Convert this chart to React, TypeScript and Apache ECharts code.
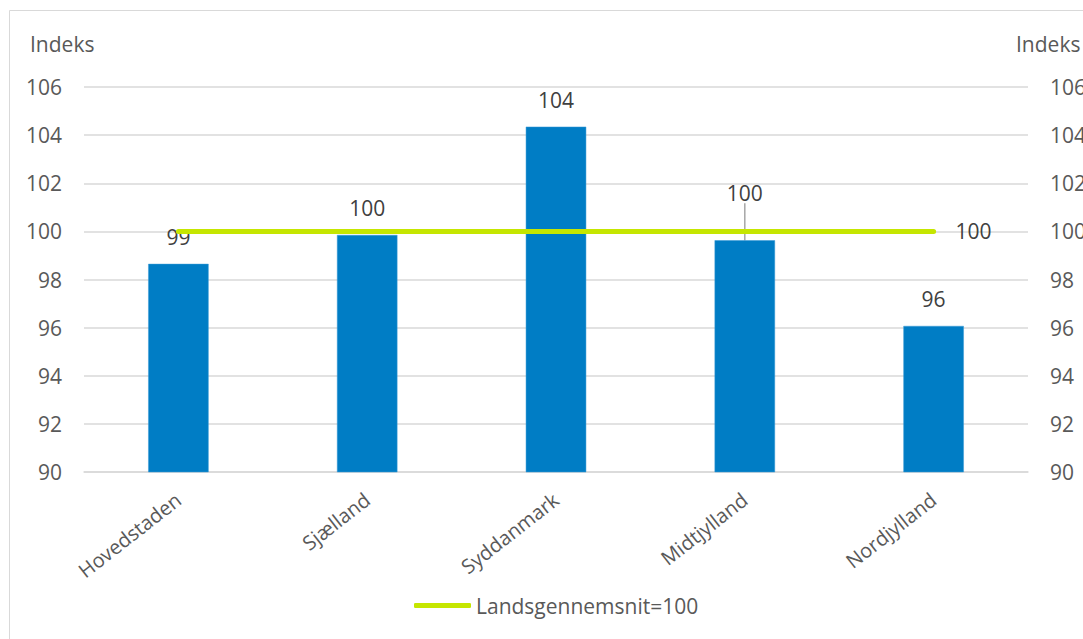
import React, { useEffect, useRef } from "react";
import * as echarts from "echarts";

const categories = ["Hovedstaden", "Sjælland", "Syddanmark", "Midtjylland", "Nordjylland"];
const indexValues = [98.65, 99.85, 104.35, 99.63, 96.07];
const indexLabels = ["99", "100", "104", "100", "96"];
const averageValues = [100, 100, 100, 100, 100];
const averageEndLabel = "100";
const averageName = "Landsgennemsnit=100";
const axisTitle = "Indeks";
const yMin = 90;
const yMax = 106;
const yStep = 2;

const FONT = "'Open Sans', 'Noto Sans', sans-serif";
const GRAY = "#595959";

export default function App() {
  const ref = useRef<HTMLDivElement>(null);
  useEffect(() => {
    if (!ref.current) return;
    const chart = echarts.init(ref.current, undefined, { renderer: "svg" });
    const yAxisBase = {
      type: "value",
      min: yMin,
      max: yMax,
      interval: yStep,
      axisLine: { show: false },
      axisTick: { show: false },
    };
    chart.setOption({
      animation: false,
      backgroundColor: "#ffffff",
      textStyle: { fontFamily: FONT },
      grid: {
        left: 84,
        right: 55,
        top: 87,
        bottom: 167,
        containLabel: false,
        outerBoundsMode: "none",
      },
      graphic: [
        {
          type: "rect",
          shape: { x: 9.5, y: 10.5, width: 1300, height: 800 },
          style: { fill: "none", stroke: "#d9d9d9", lineWidth: 1 },
          silent: true,
        },
        {
          type: "text",
          left: 30,
          top: 33,
          style: { text: axisTitle, fill: GRAY, font: `21px ${FONT}` },
        },
        {
          type: "text",
          left: 1016,
          top: 33,
          style: { text: axisTitle, fill: GRAY, font: `21px ${FONT}` },
        },
      ],
      legend: {
        data: [averageName],
        bottom: 18,
        left: 409,
        icon: "roundRect",
        itemWidth: 57,
        itemHeight: 5,
        itemGap: 10,
        itemStyle: { color: "#c5e600", borderWidth: 0 },
        textStyle: { color: GRAY, fontSize: 21, fontFamily: FONT },
      },
      xAxis: {
        type: "category",
        data: categories,
        boundaryGap: true,
        axisLine: { show: true, lineStyle: { color: "#d9d9d9", width: 1.5 } },
        axisTick: { show: false },
        axisLabel: {
          rotate: 38,
          margin: 25,
          color: GRAY,
          fontSize: 20,
          fontFamily: FONT,
          interval: 0,
        },
      },
      yAxis: [
        {
          ...yAxisBase,
          position: "left",
          splitLine: { show: true, lineStyle: { color: "#d9d9d9", width: 1.5 } },
          axisLabel: { color: GRAY, fontSize: 21, fontFamily: FONT, margin: 22 },
        },
        {
          ...yAxisBase,
          position: "right",
          splitLine: { show: false },
          axisLabel: { color: GRAY, fontSize: 21, fontFamily: FONT, margin: 22 },
        },
      ],
      series: [
        {
          name: "Indeks",
          type: "bar",
          data: indexValues.map((v, i) =>
            i === 3 ? { value: v, labelLine: { show: true } } : { value: v, labelLine: { show: false } }
          ),
          barWidth: "32%",
          z: 2,
          itemStyle: { color: "#007dc5", borderColor: "#3a9bd6", borderWidth: 0.5 },
          label: {
            show: true,
            position: "top",
            distance: 16,
            color: "#404040",
            fontSize: 21,
            fontFamily: FONT,
            formatter: (p: any) => indexLabels[p.dataIndex],
          },
          labelLine: { show: false, lineStyle: { color: "#a6a6a6", width: 1.5 } },
          labelLayout: (params: any) => (params.dataIndex === 3 ? { dy: -21 } : {}),
        },
        {
          name: averageName,
          type: "line",
          data: averageValues,
          z: 5,
          symbol: "none",
          lineStyle: { color: "#c5e600", width: 5, cap: "round" },
          itemStyle: { color: "#c5e600" },
          endLabel: {
            show: true,
            distance: 22,
            color: "#404040",
            fontSize: 21,
            fontFamily: FONT,
            formatter: () => averageEndLabel,
          },
        },
      ],
    });
    return () => chart.dispose();
  }, []);
  return (
    <div
      ref={ref}
      style={{ position: "fixed", left: 0, top: 0, width: 1083, height: 639 }}
    />
  );
}
